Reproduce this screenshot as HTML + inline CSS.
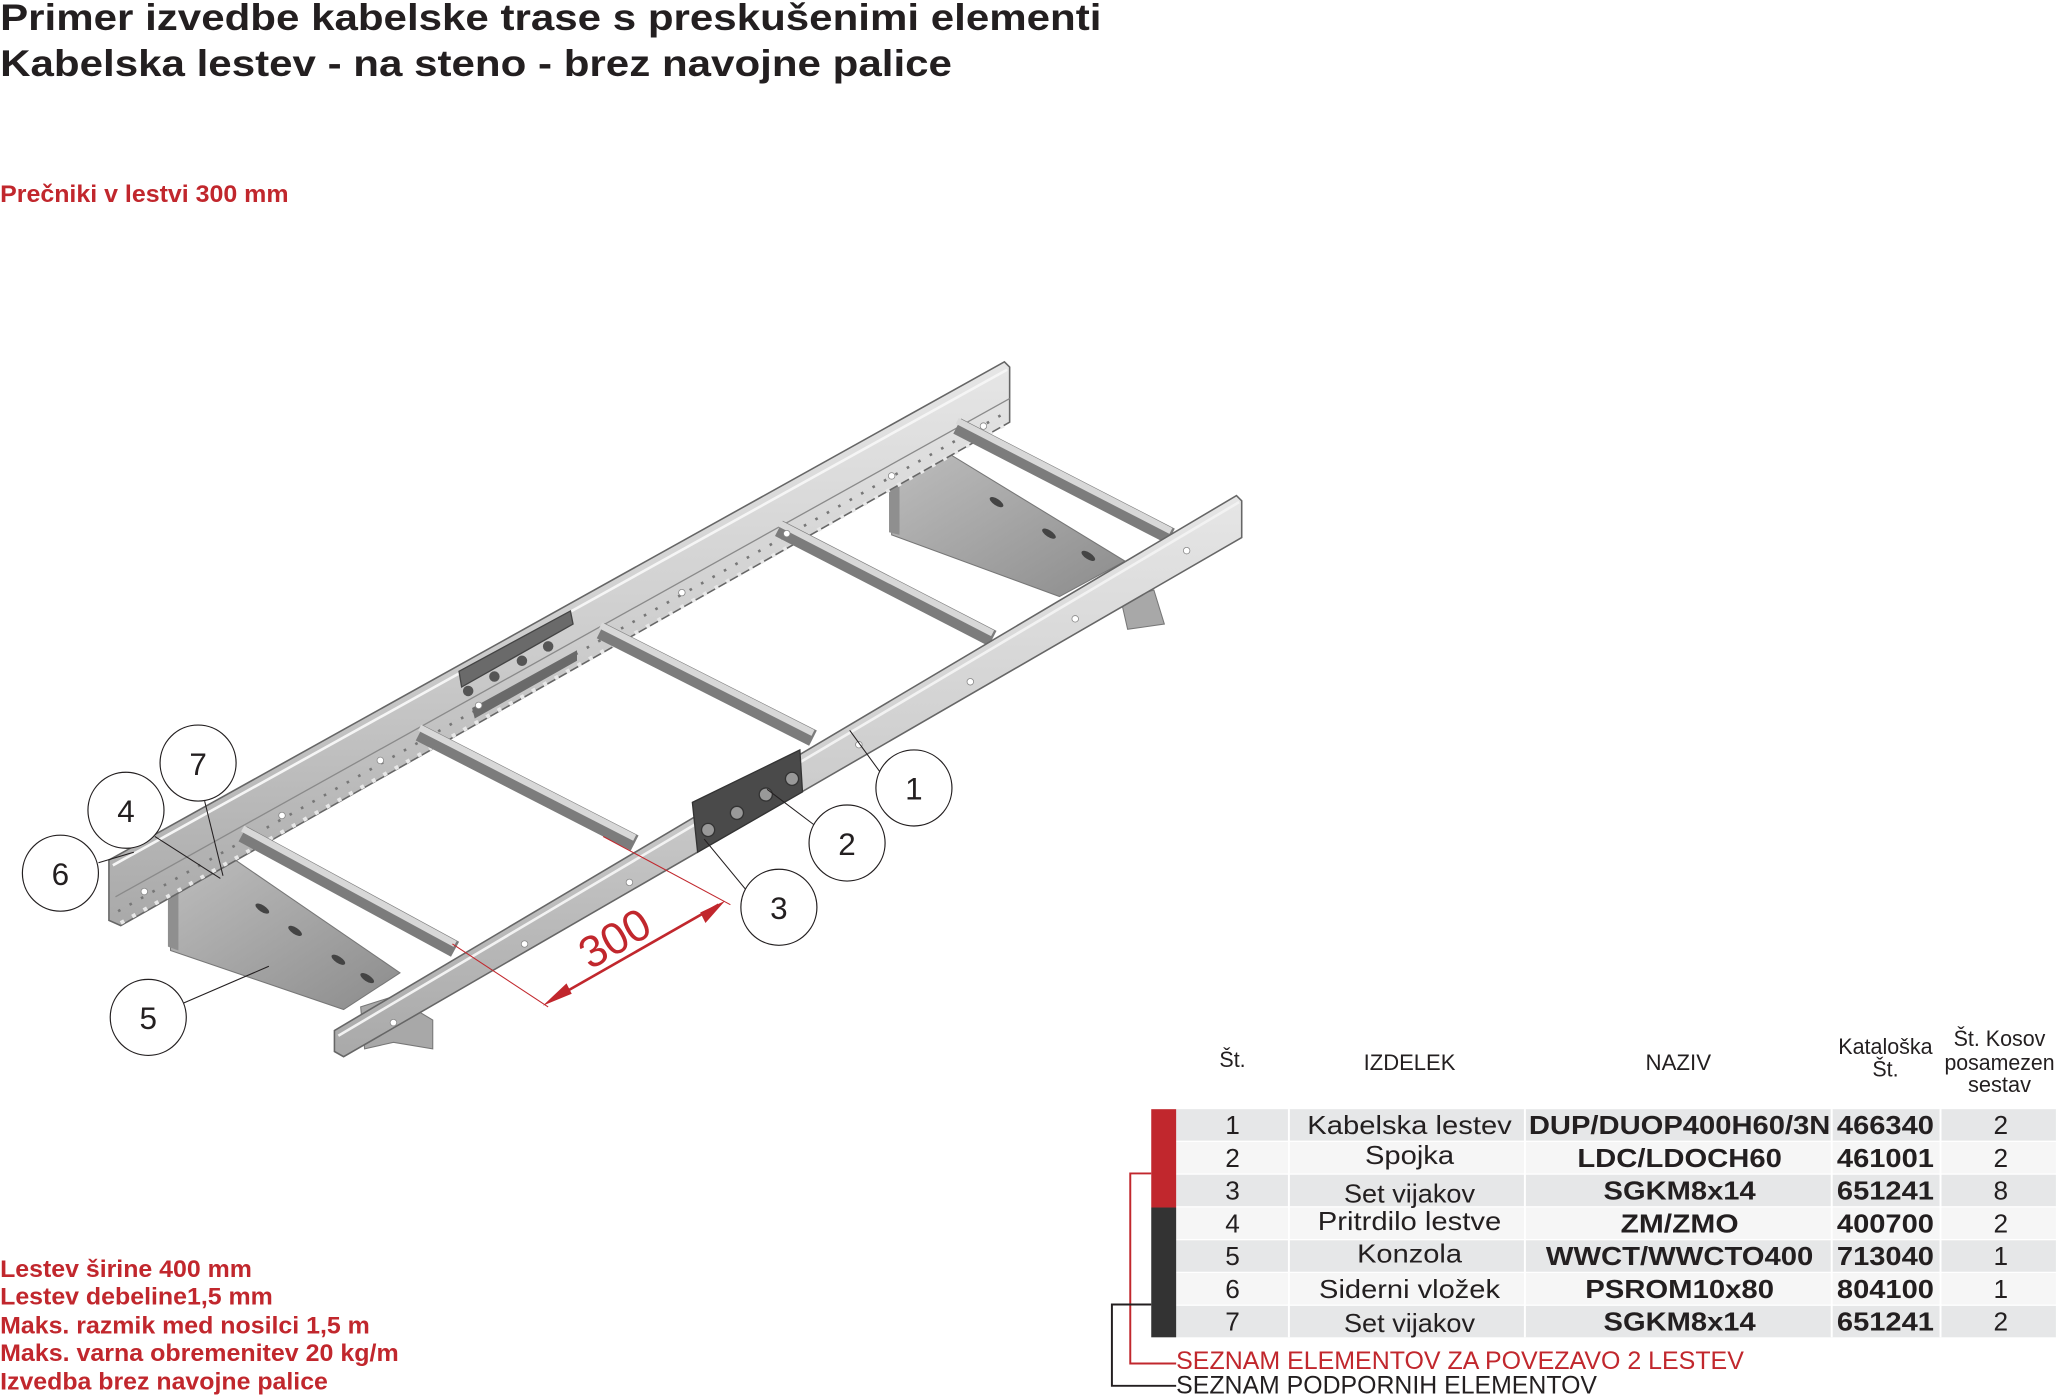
<!DOCTYPE html>
<html><head><meta charset="utf-8"><style>
html,body{margin:0;padding:0;background:#fff}
svg{display:block}
text{font-family:"Liberation Sans",Arial,sans-serif}
</style></head><body>
<svg width="2056" height="1395" viewBox="0 0 1568 1064" xmlns="http://www.w3.org/2000/svg">
<defs>
<linearGradient id="rail" x1="0" y1="0" x2="0" y2="1"><stop offset="0" stop-color="#e6e6e6"/><stop offset="0.5" stop-color="#cdcdcd"/><stop offset="1" stop-color="#a9a9a9"/></linearGradient>
<linearGradient id="plate" x1="0" y1="0" x2="1" y2="1"><stop offset="0" stop-color="#bdbdbd"/><stop offset="1" stop-color="#8c8c8c"/></linearGradient>
</defs>
<!-- Titles -->
<text x="0" y="23" font-size="28" font-weight="bold" fill="#231f20" textLength="840" lengthAdjust="spacingAndGlyphs">Primer izvedbe kabelske trase s preskušenimi elementi</text>
<text x="0" y="58" font-size="28" font-weight="bold" fill="#231f20" textLength="726" lengthAdjust="spacingAndGlyphs">Kabelska lestev - na steno - brez navojne palice</text>
<text x="0" y="154" font-size="18" font-weight="bold" fill="#c1272d" textLength="220" lengthAdjust="spacingAndGlyphs">Prečniki v lestvi 300 mm</text>
<g font-size="18" font-weight="bold" fill="#c1272d">
<text x="0" y="974" textLength="192" lengthAdjust="spacingAndGlyphs">Lestev širine 400 mm</text>
<text x="0" y="995" textLength="208" lengthAdjust="spacingAndGlyphs">Lestev debeline1,5 mm</text>
<text x="0" y="1017" textLength="282" lengthAdjust="spacingAndGlyphs">Maks. razmik med nosilci 1,5 m</text>
<text x="0" y="1038" textLength="304" lengthAdjust="spacingAndGlyphs">Maks. varna obremenitev 20 kg/m</text>
<text x="0" y="1060" textLength="250" lengthAdjust="spacingAndGlyphs">Izvedba brez navojne palice</text>
</g>

<!-- Brackets -->
<polygon points="130,678 178,655 305,742 262,770 130,725" fill="url(#plate)" stroke="#777" stroke-width="0.8"/>
<polygon points="128,678 136,680 136,725 128,722" fill="#8f8f8f"/>
<polygon points="680,368 722,345 858,428 808,455 680,408" fill="url(#plate)" stroke="#777" stroke-width="0.8"/>
<polygon points="678,368 686,370 686,408 678,406" fill="#8f8f8f"/>
<polygon points="275,768 300,760 330,778 330,800 300,795 278,800" fill="#a8a8a8" stroke="#777" stroke-width="0.8"/>
<polygon points="855,458 880,450 888,476 860,480" fill="#a8a8a8" stroke="#777" stroke-width="0.8"/>
<g fill="#444"><ellipse cx="200" cy="693" rx="6" ry="2.5" transform="rotate(33 200 693)"/><ellipse cx="225" cy="710" rx="6" ry="2.5" transform="rotate(33 225 710)"/><ellipse cx="258" cy="732" rx="6" ry="2.5" transform="rotate(33 258 732)"/><ellipse cx="280" cy="746" rx="6" ry="2.5" transform="rotate(33 280 746)"/>
<ellipse cx="760" cy="383" rx="6" ry="2.5" transform="rotate(33 760 383)"/><ellipse cx="800" cy="407" rx="6" ry="2.5" transform="rotate(33 800 407)"/><ellipse cx="830" cy="424" rx="6" ry="2.5" transform="rotate(33 830 424)"/></g>

<!-- Back rail -->
<polygon points="83,656 766,276 770,280 770,322 92,706 83,702" fill="url(#rail)" stroke="#666" stroke-width="1.2"/>
<line x1="86" y1="660" x2="768" y2="282" stroke="#f5f5f5" stroke-width="2"/>
<line x1="88" y1="684" x2="770" y2="304" stroke="#8a8a8a" stroke-width="1"/>
<line x1="92" y1="704" x2="770" y2="322" stroke="#e8e8e8" stroke-width="3" stroke-dasharray="3 7"/>
<line x1="90" y1="695" x2="770" y2="313" stroke="#777" stroke-width="2" stroke-dasharray="2 8"/>
<!-- Rungs -->
<g stroke="#7c7c7c" stroke-width="13" stroke-linecap="butt">
<line x1="185" y1="636" x2="347" y2="724"/><line x1="320" y1="559" x2="484" y2="643"/><line x1="458" y1="481" x2="620" y2="563"/><line x1="594" y1="403" x2="757" y2="487"/><line x1="730" y1="325" x2="893" y2="409"/>
</g>
<g stroke="#d8d8d8" stroke-width="5">
<line x1="185" y1="632" x2="347" y2="720"/><line x1="320" y1="555" x2="484" y2="639"/><line x1="458" y1="477" x2="620" y2="559"/><line x1="594" y1="399" x2="757" y2="483"/><line x1="730" y1="321" x2="893" y2="405"/>
</g>
<!-- back splice -->
<polygon points="350,512 435,466 437,476 352,524" fill="#6a6a6a" stroke="#444" stroke-width="1"/>
<polygon points="360,540 440,496 440,504 362,548" fill="#6a6a6a"/>
<g fill="#555"><circle cx="357" cy="527" r="4"/><circle cx="377" cy="516" r="4"/><circle cx="398" cy="504" r="4"/><circle cx="418" cy="493" r="4"/></g>
<!-- Front rail -->
<polygon points="255,786 943,378 947,382 947,410 262,806 255,802" fill="url(#rail)" stroke="#666" stroke-width="1.2"/>
<line x1="258" y1="790" x2="945" y2="383" stroke="#f2f2f2" stroke-width="2"/>
<!-- front splice -->
<polygon points="528,612 610,572 612,604 532,650" fill="#4a4a4a" stroke="#333" stroke-width="1"/>
<g fill="#999" stroke="#333"><circle cx="540" cy="633" r="5"/><circle cx="562" cy="620" r="5"/><circle cx="584" cy="606" r="5"/><circle cx="604" cy="594" r="5"/></g>
<!-- Holes -->
<g fill="#fff" stroke="#888" stroke-width="0.6">
<circle cx="110" cy="680" r="2.5"/><circle cx="215" cy="622" r="2.5"/><circle cx="290" cy="580" r="2.5"/><circle cx="365" cy="538" r="2.5"/><circle cx="520" cy="452" r="2.5"/><circle cx="600" cy="407" r="2.5"/><circle cx="680" cy="363" r="2.5"/><circle cx="750" cy="325" r="2.5"/>
<circle cx="300" cy="780" r="2.5"/><circle cx="400" cy="720" r="2.5"/><circle cx="480" cy="673" r="2.5"/><circle cx="655" cy="568" r="2.5"/><circle cx="740" cy="520" r="2.5"/><circle cx="820" cy="472" r="2.5"/><circle cx="905" cy="420" r="2.5"/>
</g>

<!-- Dimension -->
<g stroke="#c1272d" stroke-width="0.8" fill="none">
<line x1="460" y1="638" x2="557" y2="690"/><line x1="345" y1="720" x2="418" y2="768"/>
<line x1="420" y1="763" x2="548" y2="690" stroke-width="2"/>
</g>
<polygon points="414,767 432,750 436,758" fill="#c1272d"/>
<polygon points="553,687 534,696 538,704" fill="#c1272d"/>
<text x="0" y="0" font-size="34" fill="#c1272d" transform="translate(450,740) rotate(-30)">300</text>

<!-- Leaders -->
<g stroke="#231f20" stroke-width="0.8">
<line x1="156" y1="611" x2="170" y2="668"/><line x1="118" y1="638" x2="168" y2="670"/><line x1="75" y1="658" x2="102" y2="650"/><line x1="140" y1="765" x2="205" y2="737"/>
<line x1="672" y1="590" x2="648" y2="557"/><line x1="622" y1="630" x2="585" y2="602"/><line x1="570" y1="680" x2="537" y2="640"/>
</g>
<g fill="#fff" stroke="#231f20" stroke-width="0.9">
<circle cx="151" cy="582" r="29"/><circle cx="96" cy="618" r="29"/><circle cx="46" cy="666" r="29"/><circle cx="113" cy="776" r="29"/><circle cx="697" cy="601" r="29"/><circle cx="646" cy="643" r="29"/><circle cx="594" cy="692" r="29"/>
</g>
<g font-size="24" fill="#231f20" text-anchor="middle">
<text x="151" y="591">7</text><text x="96" y="627">4</text><text x="46" y="675">6</text><text x="113" y="785">5</text><text x="697" y="610">1</text><text x="646" y="652">2</text><text x="594" y="701">3</text>
</g>

<!-- Table -->
<g font-size="17" fill="#231f20" text-anchor="middle">
<text x="940" y="814" textLength="20" lengthAdjust="spacingAndGlyphs">Št.</text>
<text x="1075" y="816" textLength="70" lengthAdjust="spacingAndGlyphs">IZDELEK</text>
<text x="1280" y="816" textLength="50" lengthAdjust="spacingAndGlyphs">NAZIV</text>
<text x="1438" y="804" textLength="72" lengthAdjust="spacingAndGlyphs">Kataloška</text>
<text x="1438" y="821" textLength="20" lengthAdjust="spacingAndGlyphs">Št.</text>
<text x="1525" y="798" textLength="70" lengthAdjust="spacingAndGlyphs">Št. Kosov</text>
<text x="1525" y="816" textLength="84" lengthAdjust="spacingAndGlyphs">posamezen</text>
<text x="1525" y="833" textLength="48" lengthAdjust="spacingAndGlyphs">sestav</text>
</g>
<g>
<rect x="897" y="846" width="671" height="24" fill="#e6e7e8"/>
<rect x="897" y="871" width="671" height="24" fill="#f6f6f6"/>
<rect x="897" y="896" width="671" height="24" fill="#e6e7e8"/>
<rect x="897" y="921" width="671" height="24" fill="#f6f6f6"/>
<rect x="897" y="946" width="671" height="24" fill="#e6e7e8"/>
<rect x="897" y="971" width="671" height="24" fill="#f6f6f6"/>
<rect x="897" y="996" width="671" height="24" fill="#e6e7e8"/>
<g stroke="#fff" stroke-width="1.5"><line x1="983" y1="846" x2="983" y2="1020"/><line x1="1163" y1="846" x2="1163" y2="1020"/><line x1="1397" y1="846" x2="1397" y2="1020"/><line x1="1480" y1="846" x2="1480" y2="1020"/></g>
<rect x="878" y="846" width="19" height="75" fill="#c1272d"/>
<rect x="878" y="921" width="19" height="99" fill="#333333"/>
</g>
<g font-size="20" fill="#231f20" text-anchor="middle">
<text x="940" y="865">1</text><text x="940" y="890">2</text><text x="940" y="915">3</text><text x="940" y="940">4</text><text x="940" y="965">5</text><text x="940" y="990">6</text><text x="940" y="1015">7</text>
<text x="1075" y="865" textLength="156" lengthAdjust="spacingAndGlyphs">Kabelska lestev</text>
<text x="1075" y="888" textLength="68" lengthAdjust="spacingAndGlyphs">Spojka</text>
<text x="1075" y="917" textLength="100" lengthAdjust="spacingAndGlyphs">Set vijakov</text>
<text x="1075" y="938" textLength="140" lengthAdjust="spacingAndGlyphs">Pritrdilo lestve</text>
<text x="1075" y="963" textLength="80" lengthAdjust="spacingAndGlyphs">Konzola</text>
<text x="1075" y="990" textLength="138" lengthAdjust="spacingAndGlyphs">Siderni vložek</text>
<text x="1075" y="1016" textLength="100" lengthAdjust="spacingAndGlyphs">Set vijakov</text>
<text x="1526" y="865">2</text><text x="1526" y="890">2</text><text x="1526" y="915">8</text><text x="1526" y="940">2</text><text x="1526" y="965">1</text><text x="1526" y="990">1</text><text x="1526" y="1015">2</text>
</g>
<g font-size="20" font-weight="bold" fill="#231f20" text-anchor="middle">
<text x="1281" y="865" textLength="230" lengthAdjust="spacingAndGlyphs">DUP/DUOP400H60/3N</text>
<text x="1281" y="890" textLength="156" lengthAdjust="spacingAndGlyphs">LDC/LDOCH60</text>
<text x="1281" y="915" textLength="116" lengthAdjust="spacingAndGlyphs">SGKM8x14</text>
<text x="1281" y="940" textLength="90" lengthAdjust="spacingAndGlyphs">ZM/ZMO</text>
<text x="1281" y="965" textLength="204" lengthAdjust="spacingAndGlyphs">WWCT/WWCTO400</text>
<text x="1281" y="990" textLength="144" lengthAdjust="spacingAndGlyphs">PSROM10x80</text>
<text x="1281" y="1015" textLength="116" lengthAdjust="spacingAndGlyphs">SGKM8x14</text>
<text x="1438" y="865" textLength="74" lengthAdjust="spacingAndGlyphs">466340</text>
<text x="1438" y="890" textLength="74" lengthAdjust="spacingAndGlyphs">461001</text>
<text x="1438" y="915" textLength="74" lengthAdjust="spacingAndGlyphs">651241</text>
<text x="1438" y="940" textLength="74" lengthAdjust="spacingAndGlyphs">400700</text>
<text x="1438" y="965" textLength="74" lengthAdjust="spacingAndGlyphs">713040</text>
<text x="1438" y="990" textLength="74" lengthAdjust="spacingAndGlyphs">804100</text>
<text x="1438" y="1015" textLength="74" lengthAdjust="spacingAndGlyphs">651241</text>
</g>
<polyline points="878,895 862,895 862,1040 897,1040" fill="none" stroke="#c1272d" stroke-width="1.5"/>
<polyline points="878,995 848,995 848,1057 897,1057" fill="none" stroke="#231f20" stroke-width="1.5"/>
<text x="897" y="1044" font-size="19" fill="#c1272d" textLength="433" lengthAdjust="spacingAndGlyphs">SEZNAM ELEMENTOV ZA POVEZAVO 2 LESTEV</text>
<text x="897" y="1063" font-size="19" fill="#231f20" textLength="321" lengthAdjust="spacingAndGlyphs">SEZNAM PODPORNIH ELEMENTOV</text>
</svg>
</body></html>
